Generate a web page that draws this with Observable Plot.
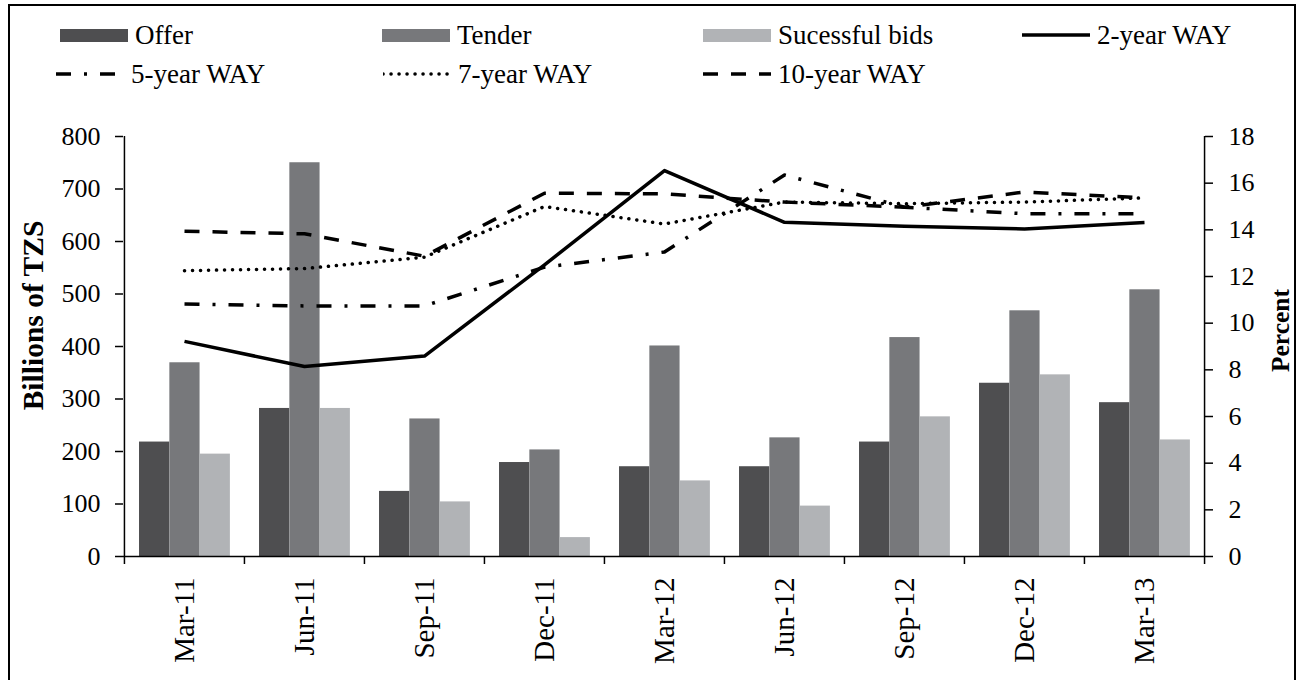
<!DOCTYPE html>
<html>
<head>
<meta charset="utf-8">
<script src="https://cdn.jsdelivr.net/npm/d3@7"></script>
<script src="https://cdn.jsdelivr.net/npm/@observablehq/plot@0.6"></script>
<style>
  html, body { margin: 0; padding: 0; background: #fff; }
  #wrap { position: relative; width: 1301px; height: 680px; overflow: hidden; font-family: "Liberation Serif", "Times New Roman", serif; color: #000; }
  #frame { position: absolute; left: 8px; top: 4px; width: 1288px; height: 700px; border: 2px solid #000; box-sizing: border-box; }
  #chart { position: absolute; left: 0; top: 0; }
  .item { position: absolute; height: 30px; display: flex; align-items: center; font-size: 27px; white-space: nowrap; }
  .item svg { display: block; }
  .item span { margin-left: 7px; }
</style>
</head>
<body>
<div id="wrap">
  <div id="frame"></div>
  <div id="chart"></div>
  <div id="legend"></div>
</div>
<script>
// ---- data ----
const categories = ["Mar-11", "Jun-11", "Sep-11", "Dec-11", "Mar-12", "Jun-12", "Sep-12", "Dec-12", "Mar-13"];
const offer      = [218, 282, 124, 179, 171, 171, 218, 330, 293];
const tender     = [369, 750, 262, 203, 401, 226, 417, 468, 508];
const successful = [195, 282, 104, 36, 144, 96, 266, 346, 222];
const way2  = [9.22, 8.14, 8.59, 12.5, 16.54, 14.32, 14.15, 14.04, 14.31];
const way5  = [10.82, 10.74, 10.74, 12.4, 13.05, 16.35, 14.97, 14.69, 14.69];
const way7  = [12.25, 12.34, 12.83, 15.0, 14.25, 15.19, 15.12, 15.19, 15.37];
const way10 = [13.94, 13.83, 12.87, 15.57, 15.54, 15.19, 14.97, 15.62, 15.37];
const leftTicks  = [0, 100, 200, 300, 400, 500, 600, 700, 800];
const rightTicks = [0, 2, 4, 6, 8, 10, 12, 14, 16, 18];
const leftMax = 800, rightMax = 18;
const barSeries = ["Offer", "Tender", "Sucessful bids"];
const lineSeries = ["2-year WAY", "5-year WAY", "7-year WAY", "10-year WAY"];
const leftTitle = "Billions of TZS", rightTitle = "Percent";

// ---- styles ----
const barColors = ["#4e4e50", "#77787b", "#b1b3b6"];
const lineDash = [null, "15,13,3,13", "0.1,7.9", "15,13"];
const lineWidth = 3.5;

// ---- layout ----
const W = 1301, H = 680;
const mL = 123, mR = 97, mT = 136, mB = 124;
const bw = (W - mL - mR) / categories.length;
const pxPerUnit = (H - mT - mB) / leftMax;
const tickLen = 8 / pxPerUnit;
const k = leftMax / rightMax;   // percent -> left-axis units
const fs = 26;

const barData = [offer, tender, successful];
const lineData = [way2, way5, way7, way10];

const g0 = 0.125 * bw, bwid = 0.2525 * bw;

const marks = [];
barData.forEach((vals, s) => {
  marks.push(Plot.barY(vals, {
    x: (d, i) => categories[i], y: d => d,
    fill: barColors[s],
    insetLeft: g0 + s * bwid,
    insetRight: bw - (g0 + (s + 1) * bwid)
  }));
});
// axis lines and category boundary ticks
marks.push(Plot.ruleY([0], {stroke: "#000", strokeWidth: 1.5}));
marks.push(Plot.ruleX(categories, {x: d => d, y1: -tickLen, y2: (d, i) => i === 0 ? leftMax : 0, dx: -bw / 2, stroke: "#000", strokeWidth: 1.5}));
marks.push(Plot.ruleX([categories[categories.length - 1]], {x: d => d, y1: -tickLen, y2: leftMax, dx: bw / 2, stroke: "#000", strokeWidth: 1.5}));

lineData.forEach((vals, s) => {
  marks.push(Plot.line(vals, {
    x: (d, i) => categories[i], y: d => d * k,
    stroke: "#000", strokeWidth: lineWidth,
    strokeDasharray: lineDash[s] || undefined,
    strokeLinecap: s === 2 ? "round" : "butt",
    strokeLinejoin: "round", curve: "linear"
  }));
});

marks.push(Plot.axisY({anchor: "left", ticks: leftTicks, tickSize: 8, tickPadding: 15, label: null, fontSize: fs, stroke: "#000", strokeWidth: 1.5}));
marks.push(Plot.axisY({anchor: "right", ticks: rightTicks.map(p => p * k), tickFormat: d => String(Math.round(d / k)), tickSize: 8, tickPadding: 16, label: null, fontSize: fs, stroke: "#000", strokeWidth: 1.5}));
marks.push(Plot.axisX({tickSize: 0, tickPadding: 21, tickRotate: -90, label: null, fontSize: 29}));
marks.push(Plot.text([leftTitle], {text: d => d, frameAnchor: "left", textAnchor: "middle", dx: -90, dy: -31, rotate: -90, fontWeight: "bold", fontSize: 29.5, fill: "#000"}));
marks.push(Plot.text([rightTitle], {text: d => d, frameAnchor: "right", textAnchor: "middle", dx: 76, dy: -16, rotate: -90, fontWeight: "bold", fontSize: 25.5, fill: "#000"}));

const chart = Plot.plot({
  width: W, height: H,
  marginLeft: mL, marginRight: mR, marginTop: mT, marginBottom: mB,
  style: {fontFamily: "'Liberation Serif', 'Times New Roman', serif", fontSize: fs + "px", color: "#000", background: "transparent", overflow: "visible"},
  x: {type: "band", domain: categories, padding: 0, axis: null},
  y: {domain: [0, leftMax], axis: null},
  marks
});
document.getElementById("chart").appendChild(chart);

// ---- legend ----
const legendPos = [
  {x: 60, y: 35}, {x: 382, y: 35}, {x: 703, y: 35}, {x: 1022, y: 35},
  {x: 56, y: 74}, {x: 383, y: 74}, {x: 703, y: 74}
];
const legend = document.getElementById("legend");
const ns = "http://www.w3.org/2000/svg";
const labels = barSeries.concat(lineSeries);
labels.forEach((lab, i) => {
  const p = legendPos[i];
  const div = document.createElement("div");
  div.className = "item";
  div.style.left = p.x + "px";
  div.style.top = (p.y - 15) + "px";
  const svg = document.createElementNS(ns, "svg");
  svg.setAttribute("width", 68); svg.setAttribute("height", 30);
  if (i < 3) {
    const r = document.createElementNS(ns, "rect");
    r.setAttribute("x", 0); r.setAttribute("y", 9); r.setAttribute("width", 68); r.setAttribute("height", 13);
    r.setAttribute("fill", barColors[i]);
    svg.appendChild(r);
  } else {
    const s = i - 3;
    const l = document.createElementNS(ns, "line");
    l.setAttribute("x1", 0); l.setAttribute("x2", 68); l.setAttribute("y1", 15); l.setAttribute("y2", 15);
    l.setAttribute("stroke", "#000"); l.setAttribute("stroke-width", lineWidth);
    if (lineDash[s]) l.setAttribute("stroke-dasharray", lineDash[s]);
    if (s === 2) l.setAttribute("stroke-linecap", "round");
    svg.appendChild(l);
  }
  div.appendChild(svg);
  const span = document.createElement("span");
  span.textContent = lab;
  div.appendChild(span);
  legend.appendChild(div);
});
</script>
</body>
</html>
